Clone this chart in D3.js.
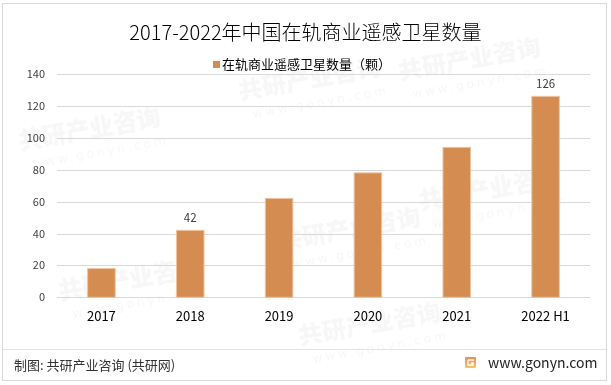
<!DOCTYPE html>
<html><head><meta charset="utf-8">
<script src="https://cdn.jsdelivr.net/npm/d3@7"></script>
<style>html,body{margin:0;padding:0;background:#fff;}svg{display:block;}</style>
</head><body>
<script>
const categories = ["2017","2018","2019","2020","2021","2022 H1"];
const values = [18, 42, 62, 78, 94, 126];
const labeled = [false, true, false, false, false, true];
const yTicks = [0,20,40,60,80,100,120,140];
const title = "2017-2022年中国在轨商业遥感卫星数量";
const seriesName = "在轨商业遥感卫星数量（颗）";
const source = "制图: 共研产业咨询 (共研网)";
const site = "www.gonyn.com";

const W = 611, H = 385;
const font = "'Noto Sans CJK SC','Noto Sans',sans-serif";
const svg = d3.select("body").append("svg").attr("width", W).attr("height", H);
svg.append("rect").attr("x",0).attr("y",0).attr("width",W).attr("height",H).attr("fill","#fff");

// faint watermarks, kept fully inside the frame
const wm = svg.append("g").attr("opacity", 0.045);
const wmPos = [[20,150],[240,100],[400,80],[60,300],[280,250],[420,210],[300,345]];
wmPos.forEach(([x,y])=>{
  const g = wm.append("g").attr("transform",`translate(${x},${y}) rotate(-10)`);
  g.append("text").attr("x",0).attr("y",0).attr("font-family",font).attr("font-weight",900)
    .attr("font-size",24).attr("fill","#444").text("共研产业咨询");
  g.append("text").attr("x",10).attr("y",20).attr("font-family","'DejaVu Sans',sans-serif")
    .attr("font-size",12).attr("letter-spacing",3).attr("fill","#444").text("www.gonyn.com");
});

// border
svg.append("rect").attr("x",2.5).attr("y",3.5).attr("width",604).attr("height",377)
  .attr("fill","none").attr("stroke","#d9d9d9").attr("stroke-width",1);

const x0 = 57, x1 = 590, yTop = 74, yBot = 297.3;
const x = d3.scaleBand().domain(categories).range([x0,x1]).paddingInner(0.69).paddingOuter(0.345);
const y = d3.scaleLinear().domain([0,140]).range([yBot,yTop]);

// grid
svg.append("g").selectAll("line").data(yTicks).join("line")
  .attr("x1",x0).attr("x2",x1).attr("y1",d=>Math.round(y(d))+0.5).attr("y2",d=>Math.round(y(d))+0.5)
  .attr("stroke","#d9d9d9").attr("stroke-width",1);

// y axis labels
const yAxis = d3.axisLeft(y).tickValues(yTicks).tickSize(0).tickPadding(0);
const ya = svg.append("g").attr("transform",`translate(45,0)`).call(yAxis);
ya.select(".domain").remove();
ya.selectAll("text").attr("font-family",font).attr("font-size",11).attr("fill","#404040");

// bars
svg.append("g").selectAll("rect").data(values).join("rect")
  .attr("x",(d,i)=>x(categories[i])).attr("width",x.bandwidth())
  .attr("y",d=>y(d)).attr("height",d=>yBot-y(d))
  .attr("fill","#d48c50").attr("stroke","#f0c4a0").attr("stroke-width",1);

// data labels
svg.append("g").selectAll("text").data(values.map((v,i)=>({v,i})).filter(d=>labeled[d.i])).join("text")
  .attr("x",d=>x(categories[d.i])+x.bandwidth()/2).attr("y",d=>y(d.v)-8)
  .attr("text-anchor","middle").attr("font-family",font).attr("font-size",11.5).attr("fill","#404040")
  .text(d=>d.v);

// x axis
const xAxis = d3.axisBottom(x).tickSize(0).tickPadding(0);
const xa = svg.append("g").attr("transform",`translate(0,${yBot+14})`).call(xAxis);
xa.select(".domain").remove();
xa.selectAll("text").attr("font-family",font).attr("font-size",13).attr("fill","#000");

// title
svg.append("text").attr("x",305.5).attr("y",40).attr("text-anchor","middle")
  .attr("font-family",font).attr("font-weight",300).attr("font-size",20).attr("fill","#000").text(title);

// legend
svg.append("rect").attr("x",213).attr("y",61).attr("width",7).attr("height",7).attr("fill","#d48c50");
svg.append("text").attr("x",222).attr("y",69).attr("font-family",font).attr("font-size",13).attr("fill","#000").text(seriesName);

// footer
svg.append("line").attr("x1",3).attr("x2",606).attr("y1",349.5).attr("y2",349.5).attr("stroke","#e3e3e3");
svg.append("text").attr("x",14).attr("y",370).attr("font-family",font).attr("font-size",13).attr("fill","#333").text(source);
const lg = svg.append("g").attr("transform","translate(465,357)");
const grad = svg.append("defs").append("linearGradient").attr("id","lg").attr("x1",0).attr("y1",0).attr("x2",0).attr("y2",1);
grad.append("stop").attr("offset","0%").attr("stop-color","#f58a4a");
grad.append("stop").attr("offset","100%").attr("stop-color","#fbc36a");
lg.append("rect").attr("width",11).attr("height",11).attr("rx",1).attr("fill","url(#lg)");
lg.append("path").attr("d","M3,3 H9 M3,3 V8 H8 V6 H6").attr("stroke","#fff").attr("stroke-width",1.4).attr("fill","none");
svg.append("text").attr("x",488).attr("y",368).attr("font-family",font).attr("font-size",14).attr("fill","#222").text(site);
</script>
</body></html>
